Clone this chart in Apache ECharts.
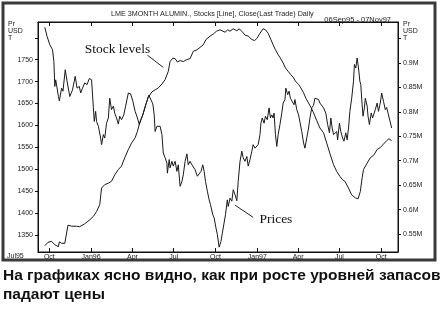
<!DOCTYPE html>
<html>
<head>
<meta charset="utf-8">
<script src="https://cdn.jsdelivr.net/npm/echarts@6/dist/echarts.min.js"></script>
<style>
  html, body { margin: 0; padding: 0; background: #fff; }
  #chart { width: 440px; height: 311px; }
</style>
</head>
<body>
<div id="chart"></div>
<script>
// ---- Data ----
const priceDates = ['1995-09-21','1995-09-26','1995-10-02','1995-10-08','1995-10-11','1995-10-13','1995-10-15','1995-10-21','1995-10-23','1995-10-28','1995-10-31','1995-11-05','1995-11-09','1995-11-15','1995-11-21','1995-11-27','1995-12-01','1995-12-06','1995-12-09','1995-12-13','1995-12-18','1995-12-23','1995-12-28','1996-01-02','1996-01-06','1996-01-08','1996-01-11','1996-01-13','1996-01-17','1996-01-22','1996-01-24','1996-01-28','1996-01-31','1996-02-04','1996-02-08','1996-02-11','1996-02-15','1996-02-19','1996-02-22','1996-02-26','1996-03-01','1996-03-04','1996-03-08','1996-03-13','1996-03-17','1996-03-23','1996-03-28','1996-04-02','1996-04-07','1996-04-12','1996-04-16','1996-04-20','1996-04-25','1996-05-01','1996-05-07','1996-05-11','1996-05-16','1996-05-19','1996-05-21','1996-05-25','1996-05-28','1996-06-01','1996-06-05','1996-06-08','1996-06-12','1996-06-16','1996-06-17','1996-06-21','1996-06-23','1996-06-27','1996-06-30','1996-07-04','1996-07-08','1996-07-11','1996-07-15','1996-07-19','1996-07-22','1996-07-26','1996-07-30','1996-08-02','1996-08-06','1996-08-10','1996-08-13','1996-08-17','1996-08-22','1996-08-26','1996-08-30','1996-09-03','1996-09-06','1996-09-09','1996-09-13','1996-09-17','1996-09-20','1996-09-25','1996-09-28','1996-10-02','1996-10-05','1996-10-09','1996-10-13','1996-10-16','1996-10-20','1996-10-23','1996-10-27','1996-10-29','1996-11-02','1996-11-06','1996-11-09','1996-11-13','1996-11-17','1996-11-20','1996-11-24','1996-11-28','1996-12-01','1996-12-05','1996-12-09','1996-12-12','1996-12-16','1996-12-20','1996-12-23','1996-12-27','1996-12-31','1997-01-03','1997-01-07','1997-01-09','1997-01-12','1997-01-16','1997-01-19','1997-01-23','1997-01-27','1997-01-30','1997-02-02','1997-02-05','1997-02-07','1997-02-10','1997-02-13','1997-02-16','1997-02-20','1997-02-24','1997-02-27','1997-03-03','1997-03-05','1997-03-09','1997-03-12','1997-03-15','1997-03-19','1997-03-23','1997-03-25','1997-03-29','1997-04-02','1997-04-05','1997-04-09','1997-04-13','1997-04-16','1997-04-20','1997-04-24','1997-04-27','1997-05-01','1997-05-05','1997-05-08','1997-05-12','1997-05-16','1997-05-19','1997-05-23','1997-05-27','1997-05-30','1997-06-01','1997-06-05','1997-06-09','1997-06-12','1997-06-15','1997-06-18','1997-06-21','1997-06-25','1997-06-27','1997-07-01','1997-07-04','1997-07-08','1997-07-11','1997-07-15','1997-07-18','1997-07-21','1997-07-24','1997-07-28','1997-08-01','1997-08-03','1997-08-06','1997-08-09','1997-08-12','1997-08-15','1997-08-17','1997-08-20','1997-08-22','1997-08-25','1997-08-27','1997-08-31','1997-09-02','1997-09-05','1997-09-09','1997-09-12','1997-09-15','1997-09-18','1997-09-22','1997-09-25','1997-09-29','1997-10-02','1997-10-06','1997-10-10','1997-10-13','1997-10-17','1997-10-21','1997-10-24'];
const priceValues = [1824,1803,1784,1773,1746,1689,1704,1666,1656,1685,1678,1727,1701,1666,1681,1712,1685,1689,1674,1685,1697,1693,1707,1704,1640,1609,1632,1609,1598,1571,1556,1579,1571,1605,1617,1662,1636,1644,1628,1617,1603,1621,1613,1624,1644,1674,1672,1655,1632,1617,1602,1613,1628,1649,1669,1672,1649,1624,1586,1598,1594,1598,1579,1537,1526,1514,1491,1522,1503,1518,1507,1518,1495,1510,1461,1472,1487,1518,1535,1510,1518,1510,1514,1499,1484,1481,1495,1510,1495,1472,1450,1430,1419,1396,1389,1366,1351,1322,1335,1354,1358,1396,1430,1415,1434,1427,1453,1442,1428,1472,1518,1541,1526,1518,1529,1507,1522,1541,1556,1548,1552,1556,1579,1605,1617,1605,1621,1613,1640,1617,1624,1617,1628,1579,1552,1579,1602,1628,1651,1659,1685,1670,1678,1662,1666,1647,1659,1636,1624,1628,1586,1560,1548,1552,1594,1617,1640,1646,1662,1666,1659,1651,1647,1640,1644,1628,1602,1583,1617,1594,1579,1575,1586,1567,1605,1586,1571,1564,1583,1567,1594,1632,1662,1701,1739,1731,1754,1731,1701,1693,1647,1621,1640,1662,1644,1621,1602,1628,1617,1621,1636,1651,1632,1651,1674,1655,1636,1641,1624,1624,1594];

const stockDates = ['1995-09-21','1995-09-28','1995-10-06','1995-10-13','1995-10-21','1995-10-23','1995-10-28','1995-11-04','1995-11-08','1995-11-11','1995-11-19','1995-11-30','1995-12-07','1995-12-11','1995-12-18','1995-12-22','1995-12-29','1996-01-06','1996-01-13','1996-01-20','1996-01-24','1996-01-31','1996-02-08','1996-02-15','1996-02-22','1996-03-01','1996-03-08','1996-03-15','1996-03-23','1996-03-30','1996-04-07','1996-04-12','1996-04-18','1996-04-24','1996-04-29','1996-05-06','1996-05-14','1996-05-21','1996-05-28','1996-06-05','1996-06-12','1996-06-16','1996-06-19','1996-06-23','1996-06-29','1996-07-04','1996-07-09','1996-07-15','1996-07-22','1996-07-30','1996-08-06','1996-08-13','1996-08-21','1996-08-28','1996-09-04','1996-09-10','1996-09-19','1996-09-26','1996-10-03','1996-10-11','1996-10-14','1996-10-22','1996-10-28','1996-11-02','1996-11-09','1996-11-17','1996-11-22','1996-11-28','1996-12-05','1996-12-12','1996-12-20','1996-12-26','1996-12-31','1997-01-07','1997-01-14','1997-01-19','1997-01-25','1997-01-31','1997-02-05','1997-02-10','1997-02-16','1997-02-21','1997-02-27','1997-03-04','1997-03-10','1997-03-16','1997-03-21','1997-03-26','1997-04-02','1997-04-07','1997-04-13','1997-04-18','1997-04-24','1997-04-30','1997-05-05','1997-05-12','1997-05-19','1997-05-27','1997-06-03','1997-06-11','1997-06-18','1997-06-25','1997-07-02','1997-07-08','1997-07-13','1997-07-21','1997-07-28','1997-08-05','1997-08-11','1997-08-16','1997-08-20','1997-08-23','1997-08-31','1997-09-07','1997-09-15','1997-09-22','1997-09-29','1997-10-06','1997-10-13','1997-10-18','1997-10-24'];
const stockValues = [0.526,0.533,0.535,0.528,0.524,0.534,0.531,0.531,0.532,0.568,0.566,0.566,0.565,0.569,0.571,0.573,0.579,0.586,0.596,0.610,0.644,0.651,0.654,0.658,0.671,0.682,0.689,0.706,0.723,0.736,0.747,0.760,0.781,0.794,0.811,0.830,0.841,0.845,0.849,0.857,0.866,0.867,0.883,0.903,0.910,0.909,0.902,0.905,0.903,0.907,0.909,0.924,0.927,0.932,0.937,0.948,0.955,0.959,0.965,0.968,0.968,0.963,0.968,0.965,0.970,0.966,0.970,0.965,0.957,0.955,0.948,0.946,0.950,0.961,0.970,0.968,0.961,0.948,0.937,0.927,0.917,0.910,0.900,0.890,0.883,0.876,0.871,0.863,0.856,0.849,0.839,0.828,0.818,0.808,0.798,0.782,0.767,0.757,0.736,0.712,0.692,0.678,0.668,0.661,0.658,0.644,0.630,0.624,0.622,0.637,0.665,0.682,0.695,0.706,0.712,0.723,0.727,0.734,0.741,0.745,0.741];

const xTickDates = ['1995-10-01','1996-01-01','1996-04-01','1996-07-01','1996-10-01','1997-01-01','1997-04-01','1997-07-01','1997-10-01'];
const xTickLabels = ['Oct','Jan96','Apr','Jul','Oct','Jan97','Apr','Jul','Oct'];
const priceTicks = [1350,1400,1450,1500,1550,1600,1650,1700,1750,1800];
const priceLabels = [1350,1400,1450,1500,1550,1600,1650,1700,1750];
const stockTicks = [0.55,0.6,0.65,0.7,0.75,0.8,0.85,0.9,0.95];
const stockLabels = [0.55,0.6,0.65,0.7,0.75,0.8,0.85,0.9];

const titleText = 'LME 3MONTH ALUMIN., Stocks [Line], Close(Last Trade) Daily';
const rangeText = '06Sep95 - 07Nov97';
const captionLines = ['На графиках ясно видно, как при росте уровней запасов', 'падают цены'];

// ---- helpers ----
const ts = s => { const p = s.split('-').map(Number); return Date.UTC(p[0], p[1]-1, p[2]); };
const xTickTs = xTickDates.map(ts);
const small = { fontFamily: 'Liberation Sans', fontSize: 7, color: '#222' };
const xMin = ts('1995-09-06'), xMax = ts('1997-11-07');

const chart = echarts.init(document.getElementById('chart'), null, { renderer: 'canvas' });

const option = {
  animation: false,
  backgroundColor: '#fff',
  title: [
    { text: titleText, left: 106, top: 6, textStyle: Object.assign({ fontWeight: 'normal' }, small, { fontSize: 7.2 }) },
    { text: rangeText, right: 44, top: 11, textStyle: Object.assign({ fontWeight: 'normal' }, small, { fontSize: 7.5 }) }
  ],
  grid: { left: 38, right: 42, top: 22, bottom: 59, show: true, borderColor: '#111', borderWidth: 1, backgroundColor: 'transparent' },
  xAxis: [
    {
      type: 'value', min: xMin, max: xMax, position: 'bottom',
      axisLine: { show: true, lineStyle: { color: '#111', width: 1 } },
      axisTick: { show: true, inside: true, length: 4, customValues: xTickTs, lineStyle: { color: '#111' } },
      axisLabel: {
        show: true, customValues: xTickTs, margin: 2, ...small,
        formatter: v => { const i = xTickTs.findIndex(t => Math.abs(t - v) < 43200000); return i >= 0 ? xTickLabels[i] : ''; }
      },
      splitLine: { show: false }
    },
    {
      type: 'value', min: xMin, max: xMax, position: 'top',
      axisLine: { show: true, lineStyle: { color: '#111', width: 1 } },
      axisTick: { show: true, inside: true, length: 4, customValues: xTickTs, lineStyle: { color: '#111' } },
      axisLabel: { show: false },
      splitLine: { show: false }
    }
  ],
  yAxis: [
    {
      type: 'value', position: 'left', min: 1311, max: 1836,
      axisLine: { show: true, lineStyle: { color: '#111' } },
      axisTick: { show: true, length: 3, customValues: priceTicks, lineStyle: { color: '#111' } },
      axisLabel: { show: true, customValues: priceLabels, margin: 5, ...small, formatter: v => String(v) },
      splitLine: { show: false }
    },
    {
      type: 'value', position: 'right', min: 0.5132, max: 0.9839,
      axisLine: { show: true, lineStyle: { color: '#111' } },
      axisTick: { show: true, length: 3, customValues: stockTicks, lineStyle: { color: '#111' } },
      axisLabel: { show: true, customValues: stockLabels, margin: 5, ...small, formatter: v => v + 'M' },
      splitLine: { show: false }
    }
  ],
  series: [
    {
      name: 'Prices', type: 'line', xAxisIndex: 0, yAxisIndex: 0, showSymbol: false, symbol: 'none',
      lineStyle: { color: '#1a1a1a', width: 1 },
      data: priceDates.map((d, i) => [ts(d), priceValues[i]]),
      markLine: {
        silent: true, symbol: 'none', label: { show: false },
        lineStyle: { color: '#222', width: 1, type: 'solid' },
        data: [[{ coord: [ts('1996-11-13'), 1418] }, { coord: [ts('1996-12-23'), 1390] }]]
      },
      markPoint: {
        silent: true, symbol: 'circle', symbolSize: 0,
        label: { show: true, position: 'inside', formatter: 'Prices', fontFamily: 'Liberation Serif', fontSize: 13.5, color: '#111' },
        data: [{ coord: [ts('1997-02-11'), 1385] }]
      }
    },
    {
      name: 'Stock levels', type: 'line', xAxisIndex: 0, yAxisIndex: 1, showSymbol: false, symbol: 'none',
      lineStyle: { color: '#1a1a1a', width: 1 },
      data: stockDates.map((d, i) => [ts(d), stockValues[i]]),
      markLine: {
        silent: true, symbol: 'none', label: { show: false },
        lineStyle: { color: '#222', width: 1, type: 'solid' },
        data: [[{ coord: [ts('1996-05-04'), 0.916] }, { coord: [ts('1996-06-08'), 0.891] }]]
      },
      markPoint: {
        silent: true, symbol: 'circle', symbolSize: 0,
        label: { show: true, position: 'inside', formatter: 'Stock levels', fontFamily: 'Liberation Serif', fontSize: 13.5, color: '#111' },
        data: [{ coord: [ts('1996-02-28'), 0.9287] }]
      }
    }
  ],
  graphic: [
    { type: 'rect', shape: { x: 3, y: 3, width: 432, height: 257 }, style: { fill: 'none', stroke: '#3a3a3a', lineWidth: 3 }, silent: true },
    { type: 'text', left: 8, top: 21, style: { text: 'Pr\nUSD\nT', font: '7px "Liberation Sans"', fill: '#222', lineHeight: 7 } },
    { type: 'text', left: 403, top: 21, style: { text: 'Pr\nUSD\nT', font: '7px "Liberation Sans"', fill: '#222', lineHeight: 7 } },
    { type: 'text', left: 7, top: 253, style: { text: 'Jul95', font: '7px "Liberation Sans"', fill: '#222' } },
    { type: 'text', left: 3, top: 268, style: { text: captionLines[0], font: 'bold 15.5px "Liberation Sans"', fill: '#111' } },
    { type: 'text', left: 3, top: 287, style: { text: captionLines[1], font: 'bold 15.5px "Liberation Sans"', fill: '#111' } }
  ]
};
chart.setOption(option);
</script>
</body>
</html>
